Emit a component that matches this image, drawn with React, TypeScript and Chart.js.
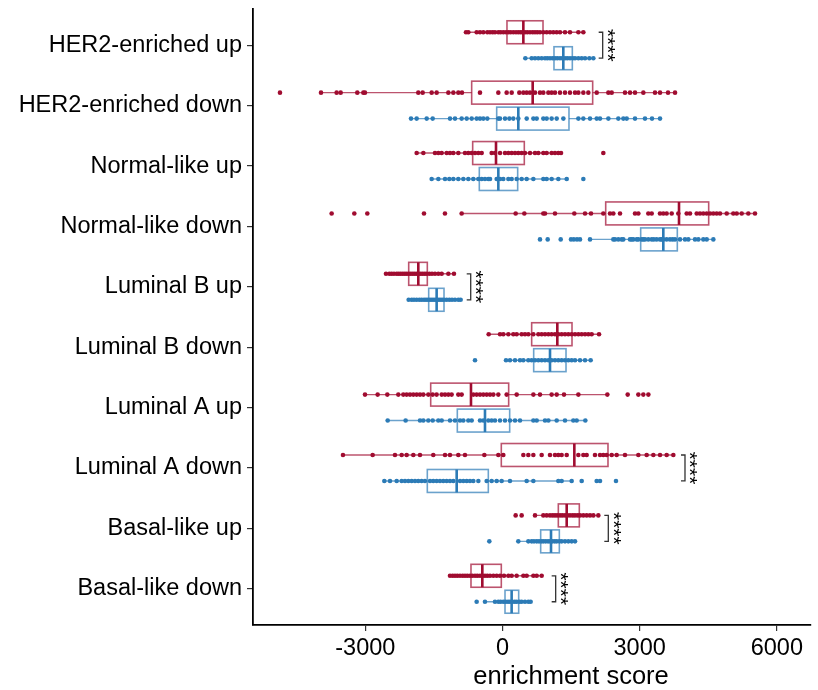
import React, { useEffect, useRef } from "react";
import { Chart, registerables } from "chart.js";

Chart.register(...registerables);

const categories = [
  "HER2-enriched up",
  "HER2-enriched down",
  "Normal-like up",
  "Normal-like down",
  "Luminal B up",
  "Luminal B down",
  "Luminal A up",
  "Luminal A down",
  "Basal-like up",
  "Basal-like down",
];

const xTicks = [-3000, 0, 3000, 6000];
const xMin = -5456;
const xMax = 6740;
const xTitle = "enrichment score";

// five-number summaries: [lower whisker, q1, median, q3, upper whisker]
const redBoxes = [
  [-798, 98, 456, 886, 1768],
  [-3969, -674, 660, 1972, 3773],
  [-1877, -652, -142, 477, 1280],
  [-893, 2257, 3860, 4509, 5522],
  [-2548, -2051, -1841, -1644, -1061],
  [-302, 638, 1199, 1520, 2111],
  [-3007, -1570, -689, 135, 2293],
  [-3488, -26, 1571, 2307, 3736],
  [711, 1221, 1404, 1680, 2096],
  [-1148, -689, -441, -26, 857],
];
const blueBoxes = [
  [500, 1126, 1330, 1527, 1987],
  [-2001, -127, 346, 1454, 3445],
  [-1549, -507, -91, 332, 1404],
  [1914, 3022, 3517, 3823, 4611],
  [-2051, -1614, -1440, -1279, -915],
  [77, 682, 1039, 1389, 1928],
  [-2511, -988, -383, 157, 1812],
  [-2584, -1644, -1002, -310, 1513],
  [346, 835, 1061, 1243, 1586],
  [-383, 55, 200, 354, 616],
];

const her2UpRed = [-798, -747, -565, -492, -419, -332, -273, -215, -164, -91, -40, 18, 77, 128, 179, 237, 295, 346, 397, 441, 492, 543, 602, 660, 711, 762, 820, 893, 966, 1039, 1112, 1185, 1258, 1367, 1476, 1659, 1768];
const her2UpBlue = [500, 638, 711, 784, 857, 930, 981, 1039, 1097, 1148, 1199, 1258, 1309, 1367, 1418, 1476, 1535, 1586, 1659, 1732, 1805, 1899, 1987];
const her2DownRed = [-4866, -3969, -3627, -3539, -3175, -3043, -3007, -1841, -1746, -1549, -1440, -1184, -1075, -966, -886, -492, -91, 91, 201, 368, 456, 529, 602, 711, 820, 893, 1003, 1075, 1148, 1258, 1367, 1476, 1586, 1659, 1768, 1877, 2060, 2315, 2388, 2679, 2789, 2898, 3080, 3335, 3445, 3620, 3773];
const her2DownBlue = [-2001, -1877, -1658, -1527, -1148, -1039, -893, -783, -674, -565, -492, -419, -332, -91, -54, 55, 150, 237, 346, 529, 675, 748, 893, 966, 1075, 1185, 1331, 1659, 1768, 1914, 2060, 2133, 2315, 2533, 2643, 2716, 2898, 3116, 3270, 3445];
const normalUpRed = [-1877, -1731, -1476, -1403, -1330, -1221, -1148, -1075, -966, -820, -747, -674, -601, -528, -455, -237, -164, -54, 55, 128, 201, 274, 346, 419, 492, 602, 711, 784, 893, 966, 1075, 1148, 1221, 1280, 2205];
const normalUpBlue = [-1549, -1403, -1257, -1163, -1075, -966, -856, -747, -638, -528, -455, -383, -310, -273, -127, -54, 18, 128, 201, 310, 419, 529, 675, 893, 966, 1075, 1221, 1404, 1768];
const normalDownRed = [-3736, -3240, -2956, -1717, -1258, -893, 288, 478, 893, 930, 1148, 1571, 1805, 1936, 2205, 2351, 2424, 2570, 2898, 2971, 3189, 3263, 3444, 3517, 3590, 3700, 3845, 4028, 4101, 4247, 4319, 4392, 4466, 4538, 4611, 4684, 4757, 4903, 5048, 5122, 5231, 5376, 5522];
const normalDownBlue = [820, 988, 1273, 1498, 1560, 1630, 1695, 1914, 2424, 2460, 2533, 2606, 2642, 2788, 2825, 2861, 2935, 2971, 3044, 3080, 3117, 3189, 3263, 3310, 3372, 3444, 3480, 3517, 3590, 3663, 3720, 3773, 3882, 3991, 4064, 4210, 4283, 4392, 4466, 4611];
const lumBUpRed = [-2548, -2475, -2424, -2373, -2314, -2271, -2227, -2183, -2139, -2096, -2052, -2008, -1964, -1921, -1877, -1833, -1790, -1746, -1702, -1658, -1600, -1542, -1476, -1403, -1330, -1184, -1061];
const lumBUpBlue = [-2052, -1986, -1935, -1877, -1819, -1768, -1717, -1673, -1629, -1585, -1542, -1498, -1454, -1410, -1367, -1323, -1279, -1221, -1163, -1104, -1039, -966, -915];
const lumBDownRed = [-302, -54, 18, 128, 237, 310, 419, 492, 565, 675, 784, 857, 930, 1003, 1075, 1148, 1221, 1294, 1367, 1440, 1513, 1586, 1659, 1732, 1805, 1877, 1950, 2111];
const lumBDownBlue = [-601, 77, 164, 274, 383, 456, 565, 638, 711, 784, 857, 930, 1003, 1075, 1148, 1221, 1294, 1367, 1440, 1513, 1586, 1695, 1805, 1928];
const lumAUpRed = [-3007, -2730, -2519, -2278, -2169, -2096, -2023, -1950, -1877, -1804, -1731, -1622, -1527, -1440, -1330, -1257, -1184, -1112, -966, -893, -638, -565, -492, -419, -346, -273, -200, -91, 91, 310, 675, 820, 1075, 1185, 1345, 1659, 2293, 2738, 2971, 3080, 3190];
const lumAUpBlue = [-2511, -2118, -1804, -1731, -1622, -1527, -1403, -1330, -1148, -1039, -929, -856, -747, -674, -492, -419, -310, -237, -164, -54, 55, 164, 274, 383, 675, 748, 930, 1003, 1185, 1367, 1549, 1622, 1812];
const lumADownRed = [-3488, -2839, -2351, -2205, -2096, -1950, -1804, -1513, -1257, -1148, -966, -820, -397, -91, 18, 456, 565, 675, 857, 1039, 1148, 1221, 1294, 1404, 1659, 1768, 1841, 2023, 2133, 2205, 2278, 2388, 2497, 2679, 2971, 3153, 3299, 3445, 3590, 3736];
const lumADownBlue = [-2584, -2460, -2314, -2205, -2132, -2059, -1986, -1913, -1841, -1768, -1695, -1585, -1513, -1440, -1367, -1294, -1221, -1148, -1075, -929, -856, -783, -711, -638, -528, -346, -237, -127, -18, 164, 529, 675, 1221, 1294, 1513, 1732, 2060, 2133, 2482];
const basalUpRed = [288, 419, 711, 893, 966, 1039, 1097, 1148, 1199, 1258, 1309, 1367, 1418, 1476, 1535, 1586, 1644, 1695, 1768, 1841, 1914, 1987, 2096];
const basalUpBlue = [-288, 346, 565, 638, 689, 748, 798, 849, 893, 944, 995, 1039, 1090, 1141, 1185, 1243, 1294, 1367, 1440, 1513, 1586];
const basalDownRed = [-1148, -1090, -1039, -988, -929, -871, -820, -769, -711, -660, -601, -550, -492, -434, -383, -332, -273, -200, -127, -54, 33, 128, 201, 310, 456, 529, 675, 748, 857];
const basalDownBlue = [-565, -383, -164, -91, -40, 18, 69, 120, 164, 215, 266, 310, 368, 419, 492, 565, 616];

const redPoints = [her2UpRed, her2DownRed, normalUpRed, normalDownRed, lumBUpRed, lumBDownRed, lumAUpRed, lumADownRed, basalUpRed, basalDownRed];
const bluePoints = [her2UpBlue, her2DownBlue, normalUpBlue, normalDownBlue, lumBUpBlue, lumBDownBlue, lumAUpBlue, lumADownBlue, basalUpBlue, basalDownBlue];

// significance brackets
const sigCategoryIndex = [0, 4, 7, 8, 9];
const sigBracketX = [2191, -695, 3991, 2314, 1163];
const sigLabel = "****";

const RED = "160,12,48";
const BLUE = "44,123,182";
const OFFSET = 0.215;
const HALF = 0.19;
const FONT = "'Liberation Sans', Arial, Helvetica, sans-serif";

const boxPlugin = {
  id: "boxes",
  beforeDatasetsDraw(chart: any) {
    const { ctx, scales } = chart;
    const x = scales.x;
    const y = scales.y;
    const draw = (boxes: number[][], off: number, rgb: string) => {
      boxes.forEach((b, i) => {
        const yc = y.getPixelForValue(i + 1 + off);
        const yt = y.getPixelForValue(i + 1 + off - HALF);
        const yb = y.getPixelForValue(i + 1 + off + HALF);
        const [wl, q1, md, q3, wh] = b.map((v) => x.getPixelForValue(v));
        ctx.save();
        ctx.strokeStyle = `rgba(${rgb},0.7)`;
        ctx.lineWidth = 1.4;
        ctx.beginPath();
        ctx.moveTo(wl, yc);
        ctx.lineTo(q1, yc);
        ctx.moveTo(q3, yc);
        ctx.lineTo(wh, yc);
        ctx.stroke();
        ctx.lineWidth = 1.6;
        ctx.strokeRect(q1, yt, q3 - q1, yb - yt);
        ctx.strokeStyle = `rgb(${rgb})`;
        ctx.lineWidth = 2.6;
        ctx.beginPath();
        ctx.moveTo(md, yt);
        ctx.lineTo(md, yb);
        ctx.stroke();
        ctx.restore();
      });
    };
    draw(redBoxes, -OFFSET, RED);
    draw(blueBoxes, OFFSET, BLUE);
  },
  afterDatasetsDraw(chart: any) {
    const { ctx, scales } = chart;
    const x = scales.x;
    const y = scales.y;
    ctx.save();
    sigCategoryIndex.forEach((ci, k) => {
      const bx = x.getPixelForValue(sigBracketX[k]);
      const y1 = y.getPixelForValue(ci + 1 - OFFSET);
      const y2 = y.getPixelForValue(ci + 1 + OFFSET);
      ctx.strokeStyle = "#333";
      ctx.lineWidth = 1.3;
      ctx.beginPath();
      ctx.moveTo(bx - 4, y1);
      ctx.lineTo(bx, y1);
      ctx.lineTo(bx, y2);
      ctx.lineTo(bx - 4, y2);
      ctx.stroke();
      ctx.save();
      ctx.translate(bx + 9, (y1 + y2) / 2);
      ctx.rotate(Math.PI / 2);
      ctx.fillStyle = "#000";
      ctx.font = `21px ${FONT}`;
      ctx.textAlign = "center";
      ctx.textBaseline = "middle";
      ctx.fillText(sigLabel, 0, 5);
      ctx.restore();
    });
    ctx.fillStyle = "#000";
    ctx.font = `25.5px ${FONT}`;
    ctx.textAlign = "center";
    ctx.textBaseline = "alphabetic";
    ctx.fillText(xTitle, 571, 684);
    ctx.restore();
  },
};

export default function App() {
  const ref = useRef<HTMLCanvasElement | null>(null);
  useEffect(() => {
    if (!ref.current) return;
    const redData = redPoints.flatMap((arr, i) => arr.map((v) => ({ x: v, y: i + 1 - OFFSET })));
    const blueData = bluePoints.flatMap((arr, i) => arr.map((v) => ({ x: v, y: i + 1 + OFFSET })));
    const chart = new Chart(ref.current, {
      type: "scatter",
      data: {
        datasets: [
          { label: "red", data: redData, backgroundColor: `rgb(${RED})`, borderWidth: 0, pointRadius: 2.3 },
          { label: "blue", data: blueData, backgroundColor: `rgb(${BLUE})`, borderWidth: 0, pointRadius: 2.3 },
        ],
      },
      options: {
        responsive: false,
        animation: false,
        devicePixelRatio: 1,
        layout: { padding: { top: 9, right: 7.3, left: 0, bottom: 0 } },
        plugins: { legend: { display: false }, tooltip: { enabled: false } },
        scales: {
          x: {
            type: "linear",
            min: xMin,
            max: xMax,
            afterBuildTicks: (s: any) => {
              s.ticks = xTicks.map((v) => ({ value: v }));
            },
            afterFit: (s: any) => {
              s.height = 65;
              s.paddingLeft = 0;
              s.paddingRight = 0;
            },
            ticks: {
              callback: (v: any) => String(v),
              color: "#000",
              font: { family: FONT, size: 23.5 },
              padding: 3,
              maxRotation: 0,
              autoSkip: false,
            },
            grid: { drawOnChartArea: false, drawTicks: true, tickLength: 6, color: "#333", lineWidth: 1.2 },
            border: { display: true, color: "#000", width: 1.8 },
          },
          y: {
            type: "linear",
            min: 0.4,
            max: 10.6,
            reverse: true,
            afterBuildTicks: (s: any) => {
              s.ticks = categories.map((_, i) => ({ value: i + 1 }));
            },
            afterFit: (s: any) => {
              s.width = 253;
              s.paddingTop = 0;
              s.paddingBottom = 0;
            },
            ticks: {
              callback: (_v: any, i: number) => categories[i],
              color: "#000",
              font: { family: FONT, size: 23.5 },
              padding: 5,
              autoSkip: false,
            },
            grid: { drawOnChartArea: false, drawTicks: true, tickLength: 6, color: "#333", lineWidth: 1.2 },
            border: { display: true, color: "#000", width: 1.8 },
          },
        },
      },
      plugins: [boxPlugin],
    });
    return () => chart.destroy();
  }, []);
  return (
    <div style={{ position: "absolute", left: 0, top: 0, width: 818, height: 690, background: "#fff" }}>
      <canvas ref={ref} width={818} height={690} />
    </div>
  );
}
